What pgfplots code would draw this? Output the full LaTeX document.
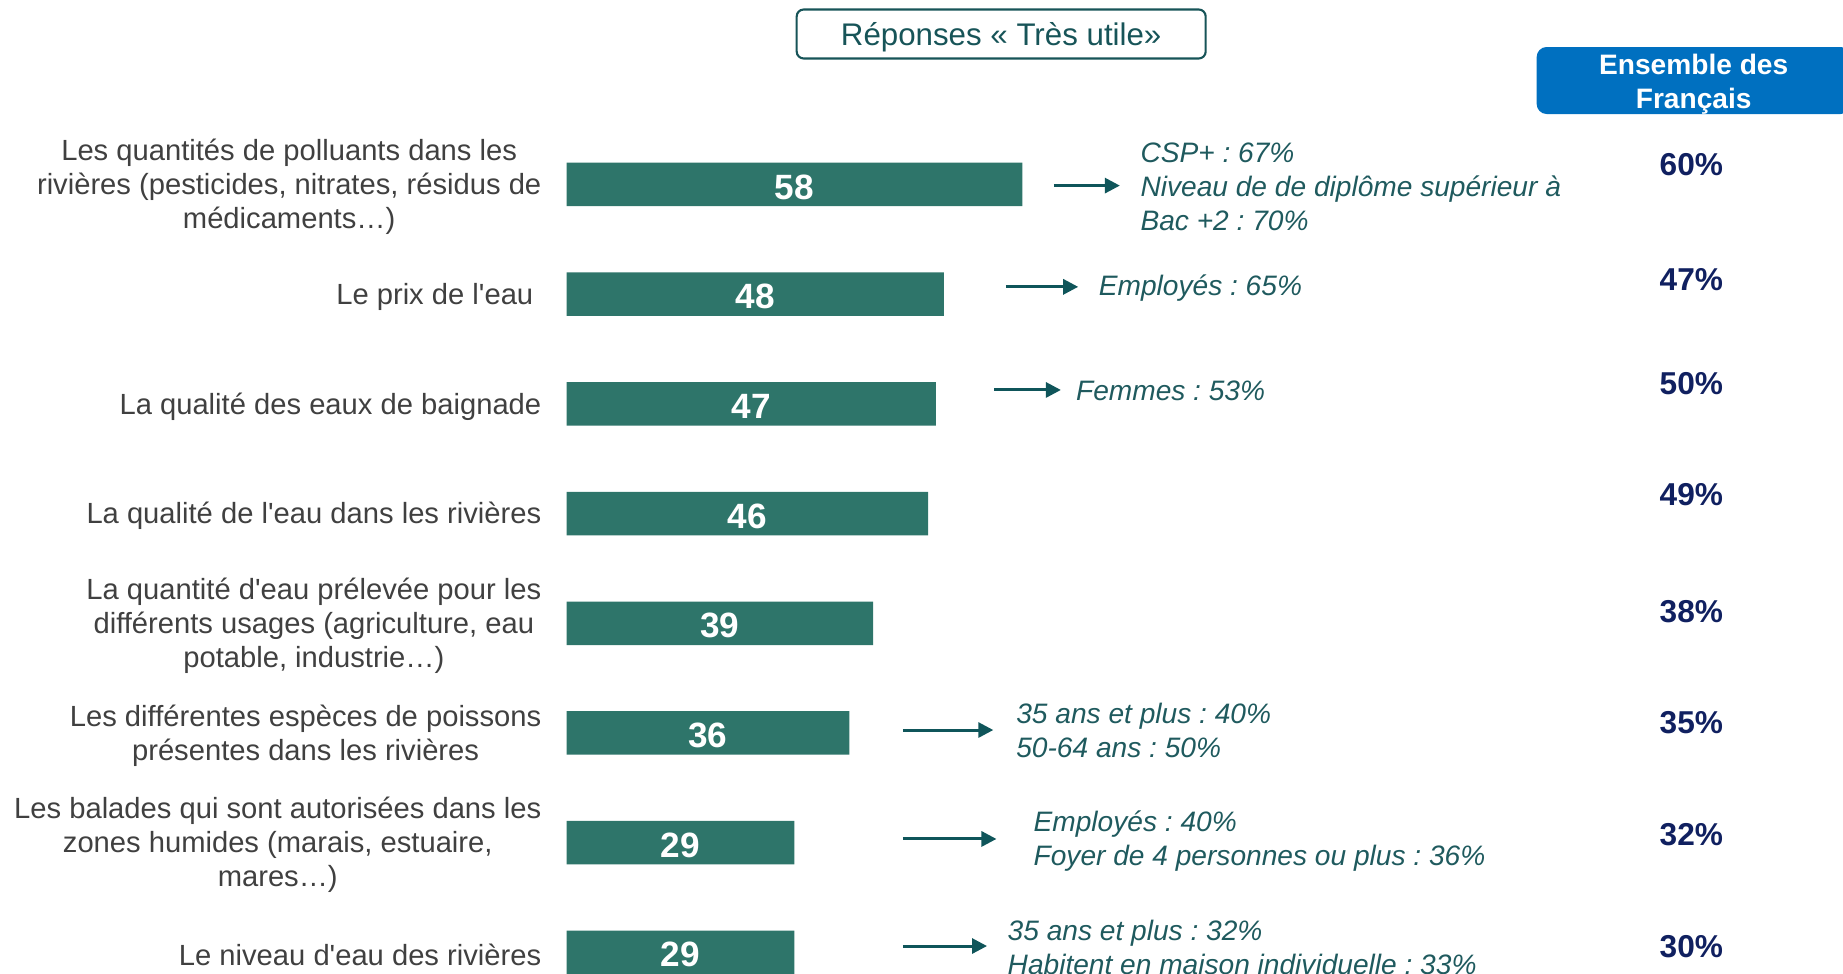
\documentclass[border=0pt]{standalone}
\usepackage{pgfplots}
\pgfplotsset{compat=1.18}
\usepackage{pgfplotstable}
\usepackage{fontspec}
\setmainfont{Liberation Sans}
\usetikzlibrary{arrows.meta}
\frenchspacing

\definecolor{barcol}{RGB}{46,117,106}
\definecolor{annot}{RGB}{31,90,94}
\definecolor{arrcol}{RGB}{15,85,90}
\definecolor{labcol}{RGB}{64,64,64}
\definecolor{boxcol}{RGB}{23,84,88}
\definecolor{bluebox}{RGB}{0,112,192}
\definecolor{navy}{RGB}{16,32,96}

% y = position of the item (0 = top), val = % "Très utile"
\pgfplotstableread{
y val
0 58
1 48
2 47
3 46
4 39
5 36
6 29
7 29
}\tresp

\begin{document}
\begin{tikzpicture}[
  lab/.style={anchor=east, align=center, text=labcol, yshift=-0.025cm,
    font=\fontsize{8.3}{9.67}\selectfont},
  ann/.style={anchor=west, align=left, text=annot, yshift=-0.01cm,
    font=\itshape\fontsize{8}{9.67}\selectfont},
  pct/.style={text=navy, font=\bfseries\fontsize{9}{10}\selectfont},
  arr/.style={draw=arrcol, line width=0.85pt, -{Triangle[length=0.15cm, width=0.15cm]}},
]
\path[use as bounding box] (0,0) rectangle (18.43cm,9.73cm);
\clip (0,0) rectangle (18.43cm,9.73cm);
\begin{axis}[
  at={(0,0)}, anchor=south west,
  scale only axis, width=18.43cm, height=9.73cm,
  xmin=-72.07, xmax=162.4,
  ymin=-1.682, ymax=7.188, y dir=reverse,
  hide axis, clip=false,
  xbar, bar width=0.435cm,
]
\addplot[fill=barcol, draw=none,
  nodes near coords,
  point meta=explicit symbolic,
  visualization depends on={x \as \rawx},
  every node near coord/.append style={anchor=center, text=white,
    font=\bfseries\fontsize{10}{12}\selectfont, yshift=-0.025cm,
    shift={(axis direction cs:-\rawx/2,0)}}]
  table[x=val, y=y, meta=val] {\tresp};

% category labels
\node[lab] at (axis cs:-1.63,0) {Les quantités de polluants dans les\\rivières (pesticides, nitrates, résidus de\\médicaments…)};
\node[lab] at (axis cs:-2.65,1) {Le prix de l\textquotesingle eau};
\node[lab] at (axis cs:-1.63,2) {La qualité des eaux de baignade};
\node[lab] at (axis cs:-1.63,3) {La qualité de l\textquotesingle eau dans les rivières};
\node[lab] at (axis cs:-1.63,4) {La quantité d\textquotesingle eau prélevée pour les\\différents usages (agriculture, eau\\potable, industrie…)};
\node[lab] at (axis cs:-1.63,5) {Les différentes espèces de poissons\\présentes dans les rivières};
\node[lab] at (axis cs:-1.63,6) {Les balades qui sont autorisées dans les\\zones humides (marais, estuaire,\\mares…)};
\node[lab] at (axis cs:-1.63,7) {Le niveau d\textquotesingle eau des rivières};

% arrows and sub-group notes
\draw[arr] (axis cs:62.0,0.01) -- (axis cs:70.4,0.01);
\draw[arr] (axis cs:55.9,0.933) -- (axis cs:65.1,0.933);
\draw[arr] (axis cs:54.4,1.873) -- (axis cs:62.9,1.873);
\draw[arr] (axis cs:42.8,4.973) -- (axis cs:54.3,4.973);
\draw[arr] (axis cs:42.8,5.966) -- (axis cs:54.7,5.966);
\draw[arr] (axis cs:42.8,6.942) -- (axis cs:53.5,6.942);
\node[ann] at (axis cs:71.45,0.011) {CSP+ : 67\%\\Niveau de de diplôme supérieur à\\Bac +2 : 70\%};
\node[ann] at (axis cs:66.15,0.933) {Employés : 65\%};
\node[ann] at (axis cs:63.25,1.873) {Femmes : 53\%};
\node[ann] at (axis cs:55.65,4.967) {35 ans et plus : 40\%\\50-64 ans : 50\%};
\node[ann] at (axis cs:57.85,5.974) {Employés : 40\%\\Foyer de 4 personnes ou plus : 36\%};
\node[ann] at (axis cs:54.55,6.943) {35 ans et plus : 32\%\\Habitent en maison individuelle : 33\%};

% headers
\node[draw=boxcol, line width=0.6pt, rounded corners=0.07cm, minimum width=4.09cm,
  minimum height=0.49cm, inner sep=0pt] at (axis cs:55.3,-1.372) {};
\node[text=boxcol, font=\fontsize{8.9}{10}\selectfont, inner sep=0pt]
  at (axis cs:55.3,-1.34) {Réponses « Très utile»};
\node[fill=bluebox, rounded corners=0.1cm, minimum width=3.14cm, minimum height=0.67cm,
  inner sep=0pt] at (axis cs:143.4,-0.948) {};
\node[text=white, align=center, inner sep=0pt, font=\bfseries\fontsize{8}{9.67}\selectfont]
  at (axis cs:143.4,-0.916) {Ensemble des\\Français};

% Ensemble des Français
\node[pct] at (axis cs:143.1,-0.18) {60\%};
\node[pct] at (axis cs:143.1,0.868) {47\%};
\node[pct] at (axis cs:143.1,1.811) {50\%};
\node[pct] at (axis cs:143.1,2.829) {49\%};
\node[pct] at (axis cs:143.1,3.89) {38\%};
\node[pct] at (axis cs:143.1,4.908) {35\%};
\node[pct] at (axis cs:143.1,5.925) {32\%};
\node[pct] at (axis cs:143.1,6.943) {30\%};
\end{axis}
\end{tikzpicture}
\end{document}
